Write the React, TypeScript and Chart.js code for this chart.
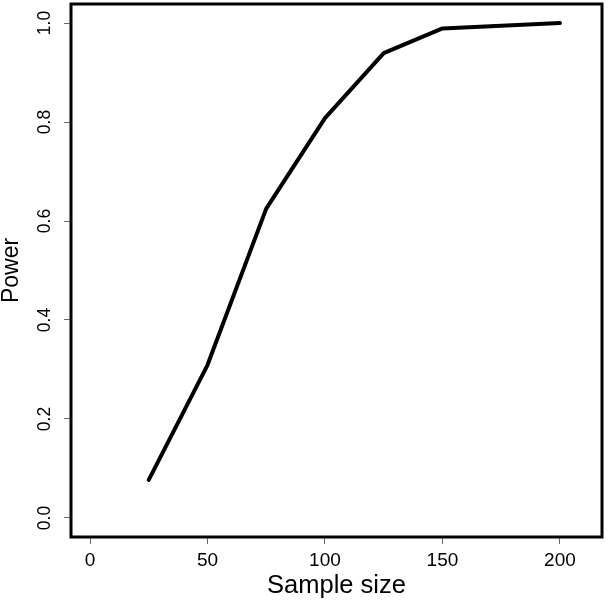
import React, { useEffect, useRef } from "react";
import { Chart, registerables } from "chart.js";

Chart.register(...registerables);

const sampleSizes = [25, 50, 75, 100, 125, 150, 200];
const power = [0.077, 0.309, 0.625, 0.808, 0.939, 0.989, 1.0];
const xTicks = [0, 50, 100, 150, 200];
const yTicks = [0, 0.2, 0.4, 0.6, 0.8, 1.0];
const xTitle = "Sample size";
const yTitle = "Power";

const FONT = "'Liberation Sans', Arial, Helvetica, sans-serif";

const boxPlugin = {
  id: "rbox",
  afterDraw(chart: any) {
    const { ctx, chartArea } = chart;
    ctx.save();
    ctx.strokeStyle = "#000";
    ctx.lineWidth = 3;
    ctx.strokeRect(chartArea.left, chartArea.top, chartArea.right - chartArea.left, chartArea.bottom - chartArea.top);
    ctx.restore();
  },
};

export default function App() {
  const ref = useRef<HTMLCanvasElement | null>(null);
  useEffect(() => {
    if (!ref.current) return;
    const chart = new Chart(ref.current, {
      type: "line",
      data: {
        datasets: [
          {
            data: sampleSizes.map((x, i) => ({ x, y: power[i] })),
            borderColor: "#000",
            borderWidth: 4,
            pointRadius: 0,
            tension: 0,
            borderCapStyle: "round",
            borderJoinStyle: "round",
            fill: false,
          },
        ],
      },
      options: {
        responsive: false,
        animation: false,
        layout: { padding: { left: 0, top: 4, right: 6, bottom: 0 } },
        plugins: { legend: { display: false }, tooltip: { enabled: false } },
        scales: {
          x: {
            type: "linear",
            min: -8.09,
            max: 217.9,
            afterFit: (s: any) => {
              s.height = 68;
              s.paddingLeft = 0;
              s.paddingRight = 0;
            },
            afterBuildTicks: (s: any) => { s.ticks = xTicks.map((v) => ({ value: v })); },
            border: { display: false },
            grid: { display: true, drawOnChartArea: false, drawTicks: true, tickLength: 7, tickColor: "#666", lineWidth: 1 },
            ticks: { color: "#000", font: { family: FONT, size: 19 }, padding: 5, maxRotation: 0, autoSkip: false },
            title: { display: true, text: xTitle, color: "#000", font: { family: FONT, size: 25.5, lineHeight: 1 }, padding: { top: 0, bottom: 6 } },
          },
          y: {
            type: "linear",
            min: -0.0384,
            max: 1.0384,
            afterFit: (s: any) => {
              s.width = 71;
              s.paddingTop = 0;
              s.paddingBottom = 0;
            },
            afterBuildTicks: (s: any) => { s.ticks = yTicks.map((v) => ({ value: v })); },
            border: { display: false },
            grid: { display: true, drawOnChartArea: false, drawTicks: true, tickLength: 7, tickColor: "#666", lineWidth: 1 },
            ticks: {
              color: "#000",
              font: { family: FONT, size: 17.5 },
              padding: 7,
              minRotation: 90,
              maxRotation: 90,
              crossAlign: "center",
              autoSkip: false,
              callback: (v: any) => Number(v).toFixed(1),
            },
            title: { display: true, text: yTitle, color: "#000", font: { family: FONT, size: 23, lineHeight: 1 }, padding: { top: 0, bottom: 0 } },
          },
        },
      },
      plugins: [boxPlugin],
    } as any);
    return () => chart.destroy();
  }, []);
  return (
    <div style={{ position: "absolute", left: 0, top: 0, width: 608, height: 605, background: "#fff" }}>
      <canvas ref={ref} width={608} height={605} style={{ display: "block" }} />
    </div>
  );
}
